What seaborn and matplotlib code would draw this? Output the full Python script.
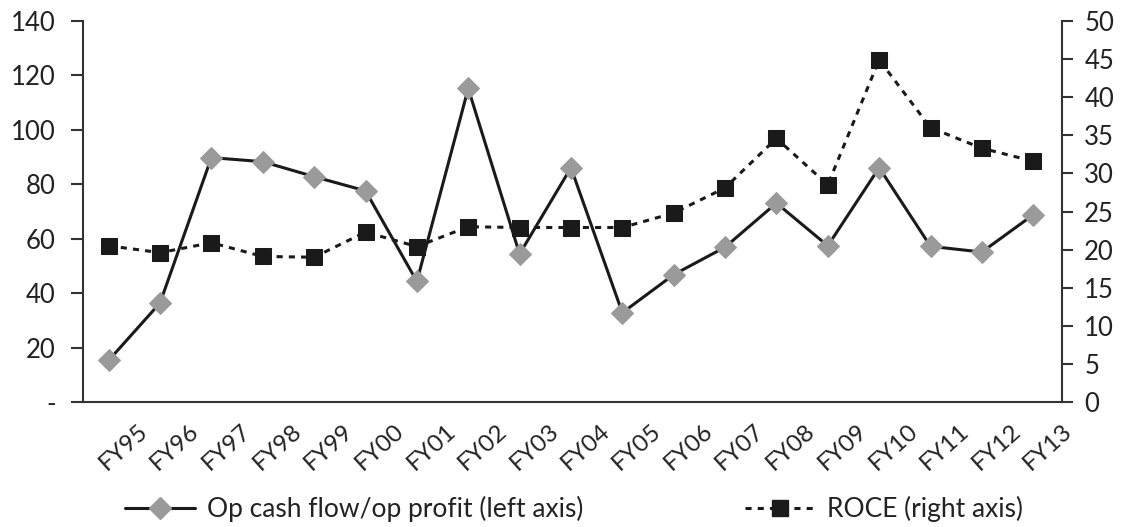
import numpy as np
import pandas as pd
import matplotlib
matplotlib.use("Agg")
import matplotlib.pyplot as plt
import seaborn as sns
from matplotlib.lines import Line2D

years = ["FY95", "FY96", "FY97", "FY98", "FY99", "FY00", "FY01", "FY02", "FY03", "FY04",
         "FY05", "FY06", "FY07", "FY08", "FY09", "FY10", "FY11", "FY12", "FY13"]
cash_ratio = [15.3, 36.4, 89.8, 88.3, 82.8, 77.6, 44.3, 115.2, 54.4, 86.1,
              32.8, 46.8, 56.9, 73.1, 57.4, 86.1, 57.2, 55.1, 68.8]
roce = [20.5, 19.6, 20.9, 19.1, 19.0, 22.3, 20.4, 23.0, 22.9, 22.9,
        22.9, 24.8, 28.1, 34.6, 28.5, 44.9, 36.0, 33.3, 31.6]
left_ticks = [0, 20, 40, 60, 80, 100, 120, 140]
left_labels = ["-", "20", "40", "60", "80", "100", "120", "140"]
right_ticks = [0, 5, 10, 15, 20, 25, 30, 35, 40, 45, 50]
label_cash = "Op cash flow/op profit (left axis)"
label_roce = "ROCE (right axis)"

sns.set_style("white")
plt.rcParams['font.family'] = ['Lato', 'DejaVu Sans']

df = pd.DataFrame({"pos": np.arange(len(years)), "cash": cash_ratio, "roce": roce})

fig = plt.figure(figsize=(11.24, 5.27), dpi=100)
ax = fig.add_axes([83/1124, 1 - 402/527, (1062-83)/1124, (402-21)/527])
ax2 = ax.twinx()

txt = "#222222"
dash = (0, (2.0, 2.0))
sns.lineplot(data=df, x="pos", y="cash", ax=ax, color="#1a1a1a", linewidth=2.2,
             marker="D", markersize=11, markerfacecolor="#9a9a9a", markeredgecolor="#9a9a9a",
             zorder=3)
sns.lineplot(data=df, x="pos", y="roce", ax=ax2, color="#1a1a1a", linewidth=2.2,
             linestyle=dash, marker="s", markersize=11,
             markerfacecolor="#1a1a1a", markeredgecolor="#1a1a1a", zorder=3)

n = len(years)
for a in (ax, ax2):
    a.set_xlim(-0.5, n - 0.5)
    a.set_xlabel("")
    a.set_ylabel("")
ax.set_ylim(0, 140)
ax2.set_ylim(0, 50)
ax.set_yticks(left_ticks)
ax.set_yticklabels(left_labels)
ax2.set_yticks(right_ticks)

fs = 18.5
# tick marks at category boundaries, labels near right boundary
ax.set_xticks(np.arange(n + 1) - 0.5, minor=True)
ax.set_xticks(np.arange(n) + 0.56)
ax.set_xticklabels(years, rotation=42, ha="right", rotation_mode="anchor")
ax.tick_params(axis="x", which="major", length=0, pad=13, labelsize=17.5, labelcolor=txt)
ax.tick_params(axis="x", which="minor", length=9, width=1.5, color="#333333", direction="out")
ax.tick_params(axis="y", length=9, width=1.5, color="#333333", labelsize=fs, labelcolor=txt, pad=10.5)
ax2.tick_params(axis="y", length=8, width=1.5, color="#333333", labelsize=fs, labelcolor=txt, pad=8)

for a in (ax, ax2):
    a.spines["top"].set_visible(False)
    for s in ("left", "right", "bottom"):
        a.spines[s].set_color("#333333")
        a.spines[s].set_linewidth(1.5)
ax.spines["right"].set_visible(False)
ax2.spines["left"].set_visible(False)
ax2.spines["bottom"].set_visible(False)

h1 = Line2D([], [], color="#1a1a1a", linewidth=2.2, marker="D", markersize=11,
            markerfacecolor="#9a9a9a", markeredgecolor="#9a9a9a")
h2 = Line2D([], [], color="#1a1a1a", linewidth=2.2, linestyle=dash, marker="s",
            markersize=11, markerfacecolor="#1a1a1a", markeredgecolor="#1a1a1a")
lfs = 19
leg1 = fig.legend([h1], [label_cash], loc="center left", bbox_to_anchor=(125/1124, 1 - 509/527),
                  frameon=False, fontsize=lfs, handlelength=2.65, handletextpad=0.45,
                  borderpad=0, borderaxespad=0)
leg2 = fig.legend([h2], [label_roce], loc="center left", bbox_to_anchor=(745/1124, 1 - 509/527),
                  frameon=False, fontsize=lfs, handlelength=2.65, handletextpad=0.45,
                  borderpad=0, borderaxespad=0)
for lg in (leg1, leg2):
    for t in lg.get_texts():
        t.set_color(txt)

fig.savefig("out.png", dpi=100)
